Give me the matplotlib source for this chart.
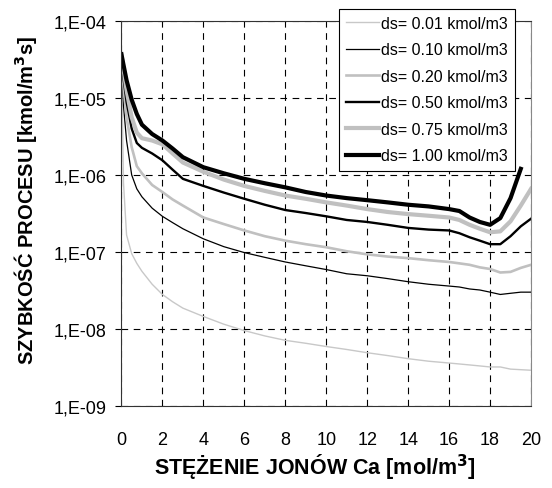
import numpy as np
import matplotlib
matplotlib.use('Agg')
import matplotlib.pyplot as plt
from matplotlib.ticker import FixedLocator, FuncFormatter, NullLocator

plt.rcParams['font.family'] = ['Liberation Sans', 'DejaVu Sans']

# ============== data ==============
conc = [0, 0.1, 0.25, 0.5, 0.75, 1, 1.5, 2, 2.5, 3, 4, 5, 6, 7, 8, 9, 10,
        11, 12, 13, 14, 15, 16, 16.5, 17, 17.5, 18, 18.5, 19, 19.5, 20]

ds001 = [3.7e-5, 7.9e-7, 1.66e-7, 9.5e-8, 7.1e-8, 5.6e-8, 3.8e-8, 2.8e-8, 2.25e-8,
         1.86e-8, 1.45e-8, 1.15e-8, 9.5e-9, 8.1e-9, 7.1e-9, 6.5e-9, 5.9e-9,
         5.4e-9, 4.9e-9, 4.5e-9, 4.1e-9, 3.8e-9, 3.6e-9, 3.5e-9, 3.4e-9,
         3.3e-9, 3.2e-9, 3.2e-9, 3.0e-9, 2.95e-9, 2.9e-9]
ds010 = [3.7e-5, 7.9e-6, 2.8e-6, 1.0e-6, 6.6e-7, 5.2e-7, 3.7e-7, 2.9e-7, 2.4e-7,
         2.0e-7, 1.48e-7, 1.17e-7, 9.8e-8, 8.5e-8, 7.4e-8, 6.6e-8, 5.9e-8,
         5.2e-8, 4.9e-8, 4.5e-8, 4.1e-8, 3.8e-8, 3.6e-8, 3.5e-8, 3.3e-8,
         3.2e-8, 3.0e-8, 2.8e-8, 2.9e-8, 3.0e-8, 3.0e-8]
ds020 = [3.7e-5, 1.4e-5, 5.6e-6, 2.3e-6, 1.3e-6, 1.05e-6, 7.4e-7, 6.0e-7, 4.8e-7,
         4.0e-7, 2.8e-7, 2.3e-7, 1.9e-7, 1.6e-7, 1.4e-7, 1.26e-7, 1.15e-7,
         1.02e-7, 9.3e-8, 8.7e-8, 8.3e-8, 7.8e-8, 7.4e-8, 7.1e-8, 6.8e-8,
         6.3e-8, 6.0e-8, 5.4e-8, 5.5e-8, 6.2e-8, 6.8e-8]
ds050 = [3.7e-5, 1.8e-5, 8.9e-6, 4.0e-6, 2.6e-6, 2.25e-6, 1.9e-6, 1.55e-6, 1.17e-6,
         8.9e-7, 7.2e-7, 5.9e-7, 4.9e-7, 4.1e-7, 3.5e-7, 3.2e-7, 2.9e-7,
         2.6e-7, 2.45e-7, 2.25e-7, 2.05e-7, 1.95e-7, 1.9e-7, 1.75e-7, 1.55e-7,
         1.4e-7, 1.26e-7, 1.26e-7, 1.6e-7, 2.15e-7, 2.7e-7]
ds075 = [3.7e-5, 2.4e-5, 1.26e-5, 5.6e-6, 3.55e-6, 3.0e-6, 2.8e-6, 2.5e-6, 1.9e-6,
         1.45e-6, 1.1e-6, 8.7e-7, 7.2e-7, 6.2e-7, 5.4e-7, 4.9e-7, 4.4e-7,
         4.0e-7, 3.6e-7, 3.3e-7, 3.1e-7, 2.95e-7, 2.8e-7, 2.6e-7, 2.25e-7,
         2.0e-7, 1.8e-7, 1.85e-7, 2.5e-7, 4.0e-7, 6.6e-7]
ds100 = [3.7e-5, 2.7e-5, 1.7e-5, 9.5e-6, 6.2e-6, 4.5e-6, 3.4e-6, 2.8e-6, 2.2e-6,
         1.7e-6, 1.26e-6, 1.05e-6, 8.9e-7, 7.8e-7, 6.9e-7, 6.0e-7, 5.4e-7,
         5.0e-7, 4.7e-7, 4.4e-7, 4.1e-7, 3.9e-7, 3.6e-7, 3.4e-7, 2.8e-7,
         2.45e-7, 2.25e-7, 2.75e-7, 5.0e-7, 1.2e-6, np.nan]

seriesLabels = ['ds= 0.01 kmol/m3', 'ds= 0.10 kmol/m3', 'ds= 0.20 kmol/m3',
                'ds= 0.50 kmol/m3', 'ds= 0.75 kmol/m3', 'ds= 1.00 kmol/m3']
xTicks = list(range(0, 21, 2))
yTicks = [1e-9, 1e-8, 1e-7, 1e-6, 1e-5, 1e-4]
# ===========================================================

styles = [('#c8c8c8', 1.0), ('black', 0.9), ('#c0c0c0', 1.9),
          ('black', 1.7), ('#c0c0c0', 3.0), ('black', 3.0)]

fig = plt.figure(figsize=(5.52, 4.89), dpi=100)
ax = fig.add_axes([0.220, 0.168, 0.742, 0.787])

allSeries = [ds001, ds010, ds020, ds050, ds075, ds100]
for values, label, (col, lw) in zip(allSeries, seriesLabels, styles):
    ax.plot(conc, values, color=col, lw=lw, label=label, solid_joinstyle='round')

ax.set_yscale('log')
ax.set_xlim(0, 20)
ax.set_ylim(1e-9, 1e-4)
ax.xaxis.set_major_locator(FixedLocator(xTicks))
ax.yaxis.set_major_locator(FixedLocator(yTicks))
ax.yaxis.set_minor_locator(NullLocator())
ax.yaxis.set_major_formatter(FuncFormatter(lambda v, p: f"1,E{int(round(np.log10(v))):03d}"))

ax.grid(True, color='black', linestyle=(0, (6, 5)), linewidth=0.8)
ax.tick_params(axis='y', length=4, width=0.8, pad=7, labelsize=13)
ax.tick_params(axis='x', length=0, pad=18, labelsize=13)
for side in ['left', 'bottom', 'top']:
    ax.spines[side].set_color('#333333')
ax.spines['right'].set_color('#888888')

fig.text(315 / 552, 1 - 467 / 489, 'STĘŻENIE JONÓW Ca [mol/m$^\\mathbf{3}$]',
         fontsize=15.5, fontweight='bold', ha='center', va='center')
fig.text(26 / 552, 1 - 200 / 489, 'SZYBKOŚĆ PROCESU [kmol/m$^\\mathbf{3}$s]',
         fontsize=14.5, fontweight='bold', ha='center', va='center', rotation=90)

leg = ax.legend(loc='upper right', bbox_to_anchor=(0.933, 0.980),
                bbox_transform=fig.transFigure, fontsize=11.5, frameon=True,
                fancybox=False, edgecolor='black', framealpha=1,
                handlelength=2.1, handletextpad=0.1, labelspacing=0.72,
                borderpad=0.45, borderaxespad=0)
leg.get_frame().set_linewidth(0.8)

fig.savefig('out.png', dpi=100)
